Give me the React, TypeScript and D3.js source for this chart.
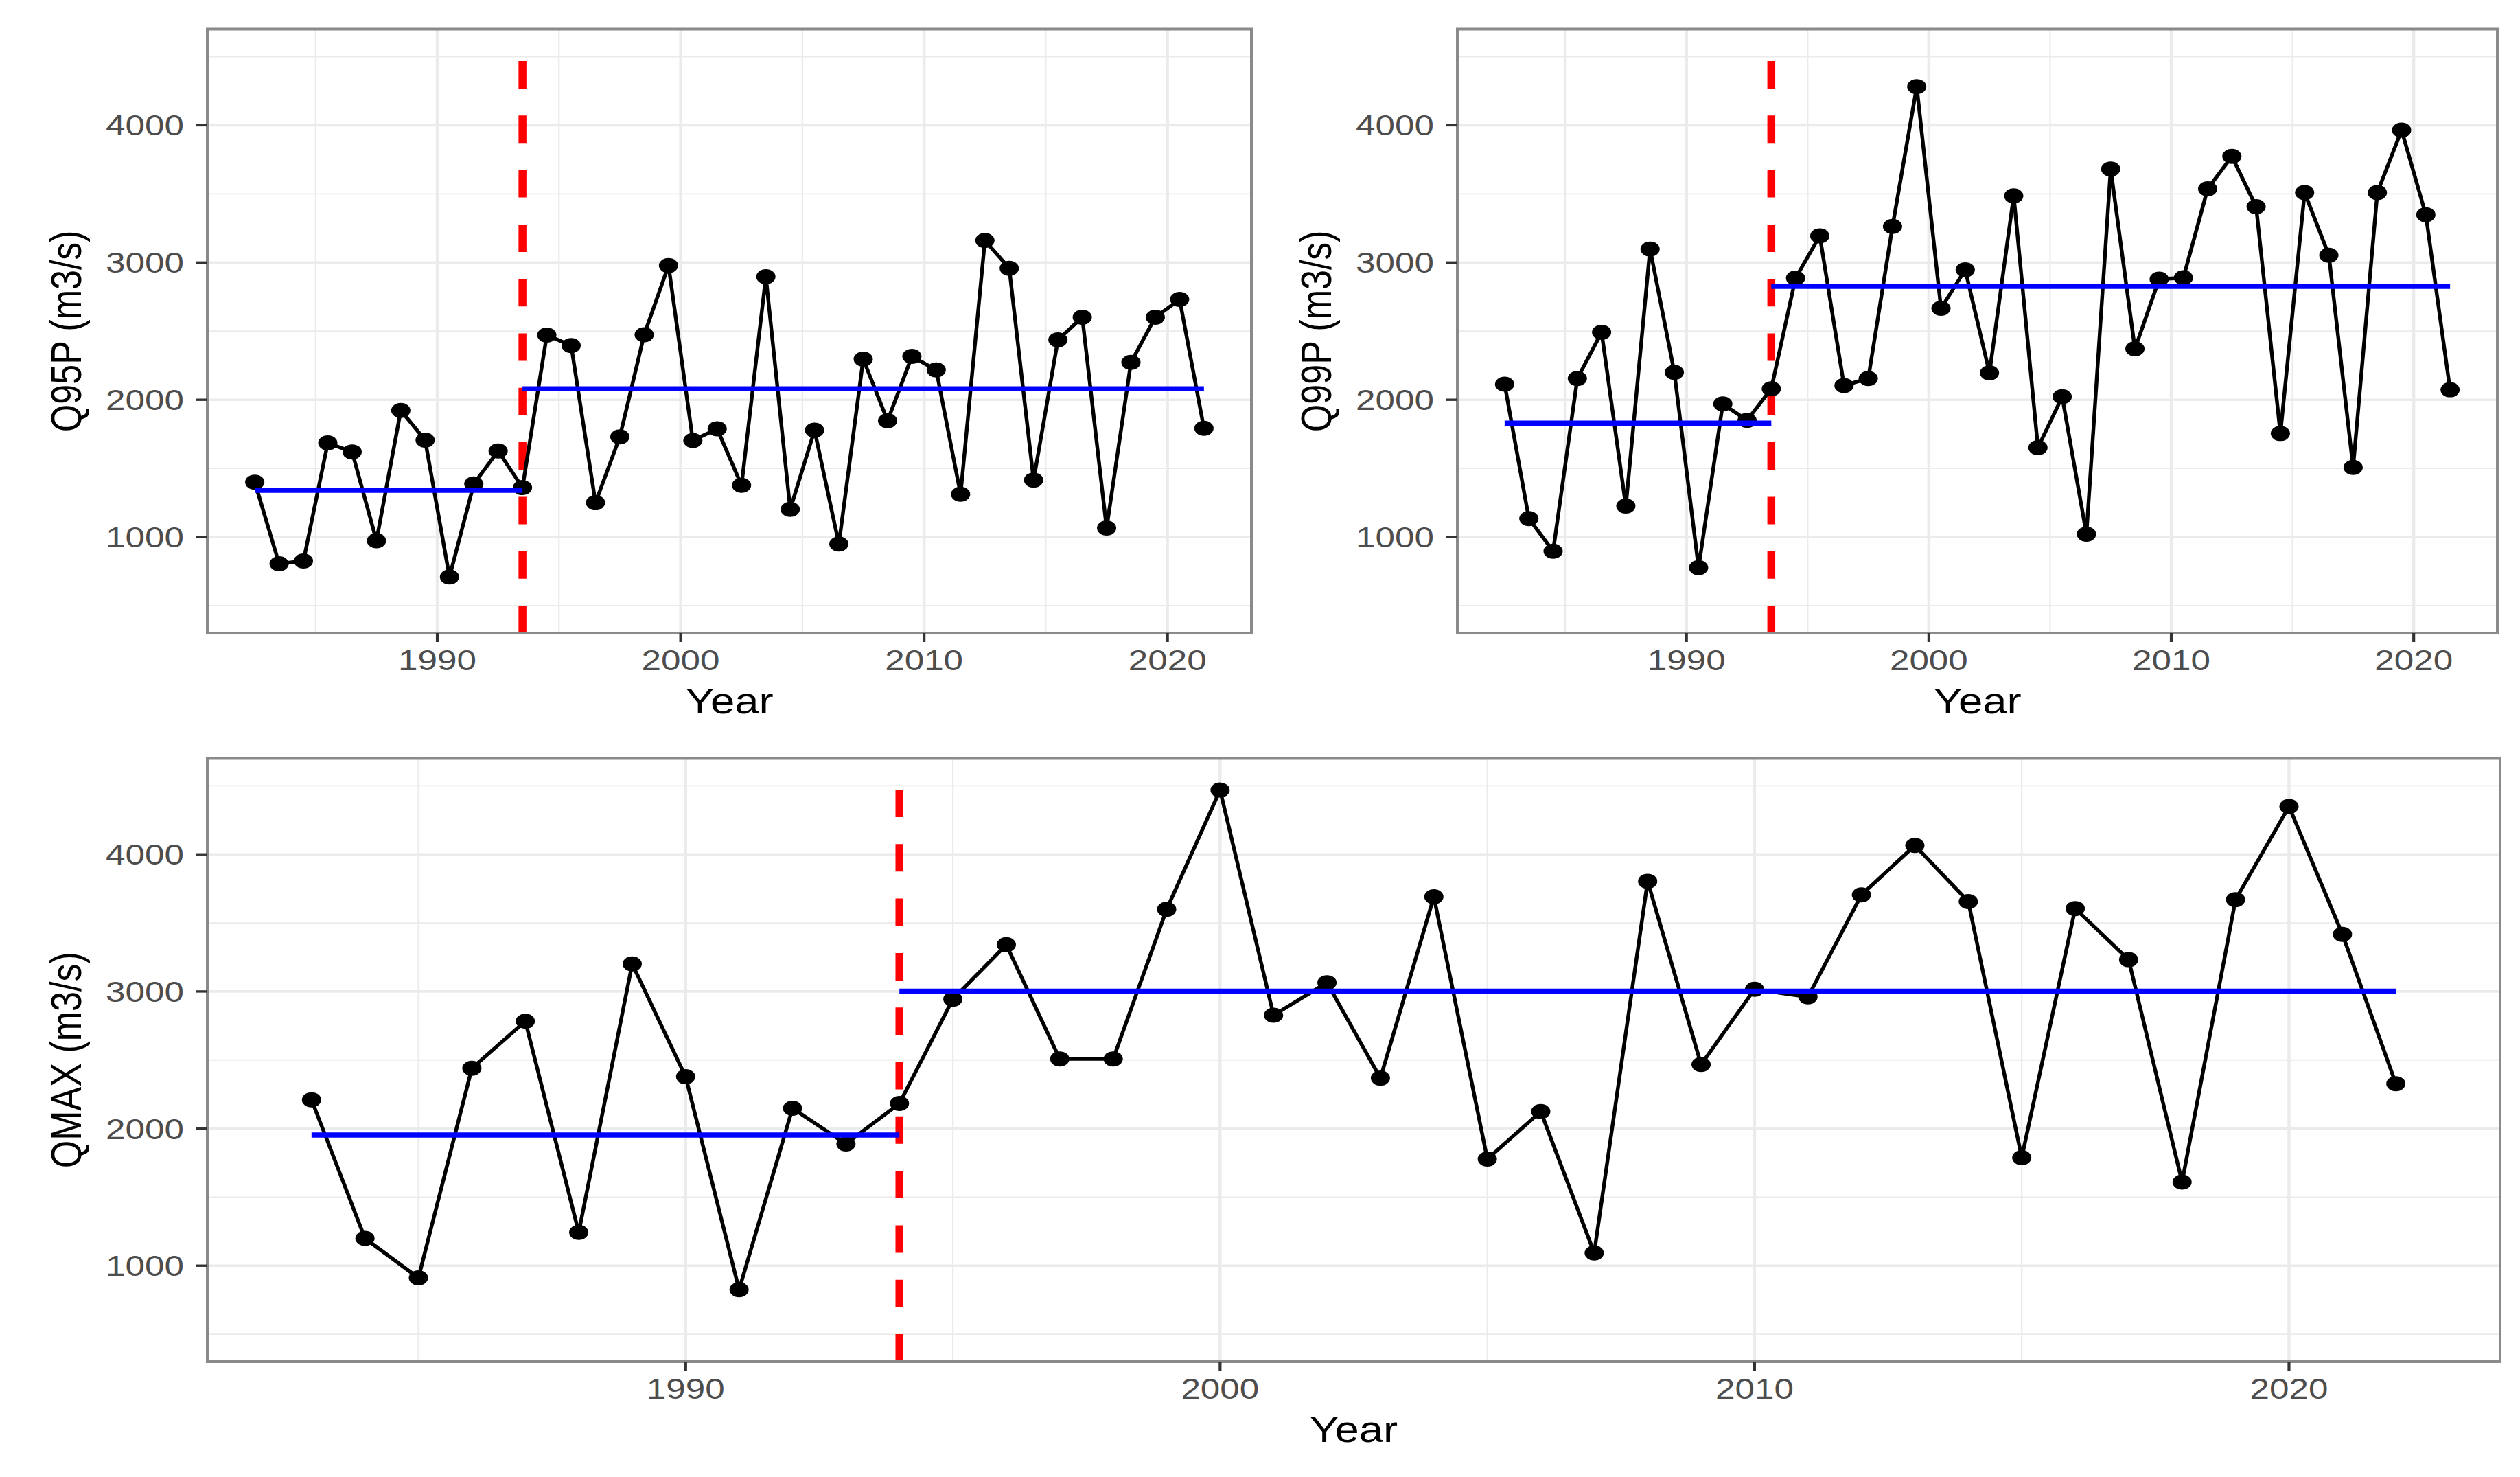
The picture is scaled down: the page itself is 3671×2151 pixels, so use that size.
import React from 'react';
import * as d3 from 'd3';

// years of record
const years = [
  1983, 1984, 1985, 1986, 1987, 1988, 1989, 1990, 1991, 1992,
  1993, 1994, 1995, 1996, 1997, 1998, 1999, 2000, 2001, 2002,
  2003, 2004, 2005, 2006, 2007, 2008, 2009, 2010, 2011, 2012,
  2013, 2014, 2015, 2016, 2017, 2018, 2019, 2020, 2021, 2022,
];

const q95p = [
  1400, 805, 825, 1686, 1620, 973, 1922, 1706, 709, 1387,
  1627, 1360, 2471, 2395, 1250, 1730, 2474, 2978, 1703, 1788,
  1377, 2896, 1202, 1778, 949, 2296, 1847, 2316, 2217, 1312,
  3160, 2958, 1415, 2436, 2601, 1065, 2272, 2601, 2731, 1792,
];

const q99p = [
  2114, 1134, 897, 2155, 2491, 1226, 3098, 2200, 777, 1970,
  1850, 2080, 2886, 3194, 2104, 2155, 3263, 4281, 2666, 2947,
  2196, 3486, 1651, 2022, 1021, 3681, 2371, 2879, 2889, 3537,
  3773, 3407, 1754, 3509, 3053, 1507, 3509, 3965, 3348, 2073,
];

const qmax = [
  2210, 1199, 911, 2440, 2783, 1243, 3201, 2378, 825, 2148,
  1888, 2183, 2944, 3341, 2508, 2508, 3599, 4469, 2827, 3064,
  2368, 3691, 1778, 2124, 1093, 3804, 2467, 3016, 2961, 3705,
  4065, 3656, 1788, 3605, 3232, 1610, 3670, 4349, 3417, 2327,
];

// change point and segment means (before, after)
const breakYear = 1994;
const q95pMeans = [1340, 2080];
const q99pMeans = [1830, 2827];
const qmaxMeans = [1953, 3002];

const yLimits = [500, 4500];
const yMajor = [1000, 2000, 3000, 4000];
const yMinor = [500, 1500, 2500, 3500, 4500];
const xMajor = [1990, 2000, 2010, 2020];
const xMinor = [1985, 1995, 2005, 2015];

const W = 3671;
const H = 2151;
const SX = 1.22; // the figure was stretched sideways
const FONT = "'Liberation Sans', Arial, Helvetica, sans-serif";

interface PanelProps {
  id: string;
  left: number;
  top: number;
  right: number;
  bottom: number;
  values: number[];
  means: number[];
  title: string;
  shift: number;
}

const expand = (lo: number, hi: number): [number, number] => {
  const pad = (hi - lo) * 0.05;
  return [lo - pad, hi + pad];
};

const Panel: React.FC<PanelProps> = ({ id, left, top, right, bottom, values, means, title, shift }) => {
  const xs = years.map(y => y + shift);
  const x = d3.scaleLinear().domain(expand(d3.min(xs)!, d3.max(xs)!)).range([left, right]);
  const y = d3.scaleLinear().domain(expand(yLimits[0], yLimits[1])).range([bottom, top]);

  const line = d3.line<number>()
    .x((_, i) => x(xs[i]))
    .y(d => y(d));

  const bx = x(breakYear + shift);
  const segs = [
    { x0: xs[0], x1: breakYear + shift, v: means[0] },
    { x0: breakYear + shift, x1: xs[xs.length - 1], v: means[1] },
  ];

  return (
    <g>
      <defs>
        <clipPath id={`clip-${id}`}>
          <rect x={left} y={top} width={right - left} height={bottom - top} />
        </clipPath>
      </defs>

      <g clipPath={`url(#clip-${id})`}>
        {yMinor.map(t => (
          <line key={`ym${t}`} x1={left} x2={right} y1={y(t)} y2={y(t)} stroke="#EBEBEB" strokeWidth={1.8} />
        ))}
        {xMinor.map(t => (
          <line key={`xm${t}`} x1={x(t)} x2={x(t)} y1={top} y2={bottom} stroke="#EBEBEB" strokeWidth={2.2} />
        ))}
        {yMajor.map(t => (
          <line key={`yM${t}`} x1={left} x2={right} y1={y(t)} y2={y(t)} stroke="#EBEBEB" strokeWidth={3.6} />
        ))}
        {xMajor.map(t => (
          <line key={`xM${t}`} x1={x(t)} x2={x(t)} y1={top} y2={bottom} stroke="#EBEBEB" strokeWidth={4.4} />
        ))}

        <line x1={bx} x2={bx} y1={y(y.domain()[0])} y2={y(yLimits[1])}
          stroke="#FF0000" strokeWidth={11.5} strokeDasharray="40 39.3" />

        <path d={line(values) || ''} fill="none" stroke="#000" strokeWidth={5.4} strokeLinejoin="round" />
        {values.map((v, i) => (
          <ellipse key={i} cx={x(xs[i])} cy={y(v)} rx={14} ry={11} fill="#000" />
        ))}

        {segs.map((s, i) => (
          <line key={`s${i}`} x1={x(s.x0)} x2={x(s.x1)} y1={y(s.v)} y2={y(s.v)} stroke="#0000FF" strokeWidth={7.5} />
        ))}
      </g>

      <rect x={left} y={top} width={right - left} height={bottom - top} fill="none" stroke="#8a8a8a" strokeWidth={4} />

      {yMajor.map(t => (
        <g key={`yt${t}`}>
          <line x1={left - 16} x2={left} y1={y(t)} y2={y(t)} stroke="#333" strokeWidth={3.4} />
          <text transform={`translate(${left - 34},${y(t) + 15}) scale(${SX},1)`} textAnchor="end"
            fontFamily={FONT} fontSize={42} fill="#4D4D4D">{t}</text>
        </g>
      ))}
      {xMajor.map(t => (
        <g key={`xt${t}`}>
          <line x1={x(t)} x2={x(t)} y1={bottom} y2={bottom + 13} stroke="#333" strokeWidth={4.2} />
          <text transform={`translate(${x(t)},${bottom + 54}) scale(${SX},1)`} textAnchor="middle"
            fontFamily={FONT} fontSize={42} fill="#4D4D4D">{t}</text>
        </g>
      ))}

      <text transform={`translate(${(left + right) / 2},${bottom + 117}) scale(${SX},1)`} textAnchor="middle"
        fontFamily={FONT} fontSize={52} fill="#000">Year</text>
      <text transform={`translate(${left - 184},${(top + bottom) / 2}) scale(${SX},1) rotate(-90)`} textAnchor="middle"
        fontFamily={FONT} fontSize={52} fill="#000">{title}</text>
    </g>
  );
};

export default function App() {
  return (
    <div style={{ position: 'absolute', left: 0, top: 0 }}>
      <svg width={W} height={H} viewBox={`0 0 ${W} ${H}`} style={{ display: 'block', background: '#fff' }}>
        <rect width={W} height={H} fill="#fff" />
        <Panel id="q95" left={302} top={42.5} right={1823} bottom={922}
          values={q95p} means={q95pMeans} title="Q95P (m3/s)" shift={-0.5} />
        <Panel id="q99" left={2123} top={42.5} right={3638} bottom={922}
          values={q99p} means={q99pMeans} title="Q99P (m3/s)" shift={-0.5} />
        <Panel id="qmax" left={302} top={1104.5} right={3642} bottom={1983}
          values={qmax} means={qmaxMeans} title="QMAX (m3/s)" shift={0} />
      </svg>
    </div>
  );
}
